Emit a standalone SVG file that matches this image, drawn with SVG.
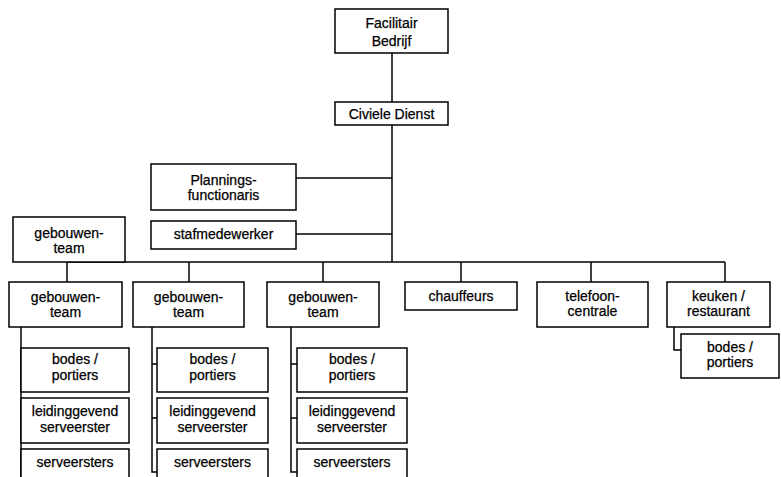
<svg xmlns="http://www.w3.org/2000/svg" width="781" height="477" viewBox="0 0 781 477">
<style>
rect{fill:#fff;stroke:#000;stroke-width:1.5}
.c line,.c path{stroke:#000;stroke-width:1.5;fill:none}
text{font-family:"Liberation Sans",Arial,sans-serif;font-size:14px;fill:#000;stroke:#000;stroke-width:0.25;text-anchor:middle}
</style>
<rect x="0" y="0" width="781" height="477" style="stroke:none"/>
<g class="c" id="connectors">
<line x1="392" y1="53" x2="392" y2="102"/>
<line x1="392" y1="125" x2="392" y2="262"/>
<line x1="296" y1="178" x2="392" y2="178"/>
<line x1="296" y1="234" x2="392" y2="234"/>
<line x1="67" y1="262" x2="725" y2="262"/>
<line x1="67" y1="262" x2="67" y2="282"/>
<line x1="189" y1="262" x2="189" y2="282"/>
<line x1="323" y1="262" x2="323" y2="282"/>
<line x1="461" y1="262" x2="461" y2="282"/>
<line x1="591" y1="262" x2="591" y2="282"/>
<line x1="725" y1="262" x2="725" y2="282"/>
<line x1="21" y1="327" x2="21" y2="477"/>
<path d="M152 327V472H157M152 364H157M152 418H157"/>
<path d="M291 327V472H297M291 364H297M291 418H297"/>
<path d="M674 327V350H681"/>
</g>
<g id="facilitair"><rect x="335" y="9" width="113" height="44"/><text x="391.5" y="28">Facilitair</text><text x="391.5" y="46">Bedrijf</text></g>
<g id="civiele"><rect x="335" y="102" width="113" height="23"/><text x="391.5" y="119">Civiele Dienst</text></g>
<g id="plannings"><rect x="151" y="164" width="145" height="46"/><text x="223.5" y="185">Plannings-</text><text x="223.5" y="200">functionaris</text></g>
<g id="staf"><rect x="151" y="221" width="145" height="28"/><text x="223.5" y="239">stafmedewerker</text></g>
<g id="gebouwen0"><rect x="13" y="217" width="112" height="45"/><text x="69" y="238">gebouwen-</text><text x="69" y="253">team</text></g>
<g id="gebouwenA"><rect x="9" y="282" width="113" height="45"/><text x="65.5" y="302">gebouwen-</text><text x="65.5" y="317">team</text></g>
<g id="gebouwenB"><rect x="133" y="282" width="111" height="45"/><text x="188.5" y="302">gebouwen-</text><text x="188.5" y="317">team</text></g>
<g id="gebouwenC"><rect x="267" y="282" width="112" height="45"/><text x="323" y="302">gebouwen-</text><text x="323" y="317">team</text></g>
<g id="chauffeurs"><rect x="405" y="282" width="112" height="28"/><text x="461" y="301">chauffeurs</text></g>
<g id="telefoon"><rect x="537" y="282" width="111" height="45"/><text x="592.5" y="301">telefoon-</text><text x="592.5" y="316">centrale</text></g>
<g id="keuken"><rect x="667" y="282" width="103" height="45"/><text x="718.5" y="301">keuken /</text><text x="718.5" y="316">restaurant</text></g>
<g id="bodesK"><rect x="681" y="334" width="98" height="44"/><text x="730" y="352">bodes /</text><text x="730" y="367">portiers</text></g>
<g id="bodesA"><rect x="21" y="348" width="108" height="44"/><text x="75" y="364">bodes /</text><text x="75" y="380">portiers</text></g>
<g id="leidA"><rect x="21" y="398" width="108" height="45"/><text x="75" y="416">leidinggevend</text><text x="75" y="432">serveerster</text></g>
<g id="servA"><rect x="21" y="449" width="108" height="40"/><text x="75" y="467">serveersters</text></g>
<g id="bodesB"><rect x="157" y="348" width="111" height="44"/><text x="212.5" y="364">bodes /</text><text x="212.5" y="380">portiers</text></g>
<g id="leidB"><rect x="157" y="398" width="111" height="45"/><text x="212.5" y="416">leidinggevend</text><text x="212.5" y="432">serveerster</text></g>
<g id="servB"><rect x="157" y="449" width="111" height="40"/><text x="212.5" y="467">serveersters</text></g>
<g id="bodesC"><rect x="297" y="348" width="110" height="44"/><text x="352" y="364">bodes /</text><text x="352" y="380">portiers</text></g>
<g id="leidC"><rect x="297" y="398" width="110" height="45"/><text x="352" y="416">leidinggevend</text><text x="352" y="432">serveerster</text></g>
<g id="servC"><rect x="297" y="449" width="110" height="40"/><text x="352" y="467">serveersters</text></g>
</svg>
